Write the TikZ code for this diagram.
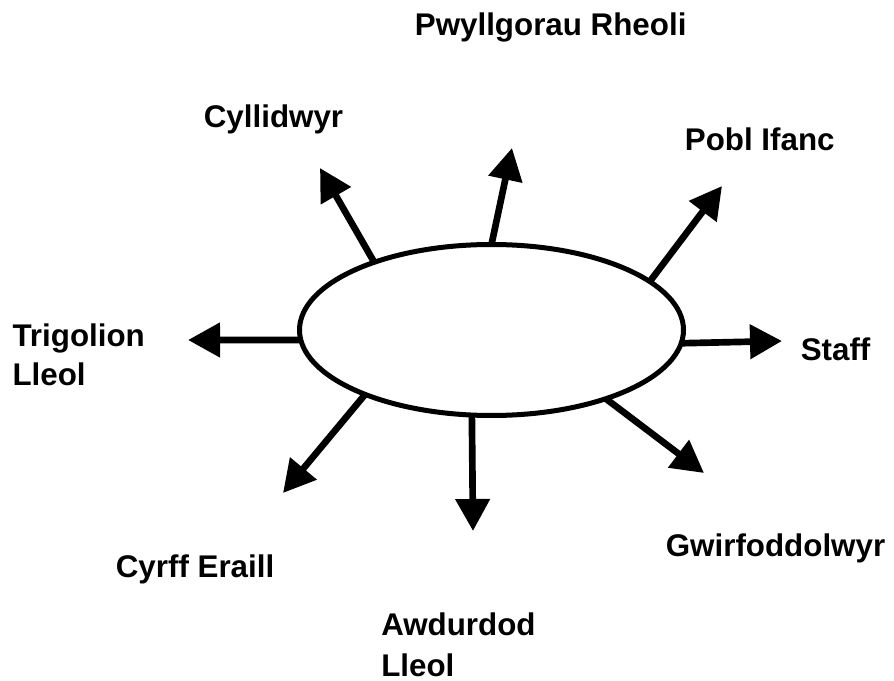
\documentclass[tikz,border=0pt]{standalone}
\usepackage{fontspec}
\setmainfont{Liberation Sans}
\usetikzlibrary{arrows.meta, shapes.geometric}

\begin{document}
\begin{tikzpicture}[x=0.75pt, y=-0.75pt,
  lbl/.style={anchor=north west, inner sep=0pt, align=left,
    font=\fontsize{23.5}{29.25}\selectfont\bfseries},
  spoke/.style={line width=5pt, -{Triangle[length=24pt, width=25pt]}}]
  \useasboundingbox (0,0) rectangle (894,681);
  \node[draw, ellipse, line width=3.75pt, inner sep=0pt, outer sep=0pt,
    minimum width=288pt, minimum height=128.25pt] (hub) at (491.5,330) {};

  % stakeholders
  \node[lbl] (pwyllgor) at (414.6,13) {Pwyllgorau Rheoli};
  \node[lbl] (cyllid) at (203.6,105) {Cyllidwyr};
  \node[lbl] (pobl) at (684.6,128) {Pobl Ifanc};
  \node[lbl] (trigolion) at (12.3,324) {Trigolion\\Lleol};
  \node[lbl] (staff) at (800.5,338) {Staff};
  \node[lbl] (gwirfodd) at (665.6,534) {Gwirfoddolwyr};
  \node[lbl] (cyrff) at (115.6,555) {Cyrff Eraill};
  \node[lbl] (awdurdod) at (381,613) {Awdurdod\\[1pt]Lleol};

  % arrow tips
  \coordinate (tipPwy) at (512,148);
  \coordinate (tipCyl) at (320,168);
  \coordinate (tipPob) at (722,186);
  \coordinate (tipTri) at (188,340);
  \coordinate (tipSta) at (782,341);
  \coordinate (tipGwi) at (704,473);
  \coordinate (tipCyr) at (283,493);
  \coordinate (tipAwd) at (473,531);

  \draw[spoke] (hub.90) -- (tipPwy);
  \draw[spoke] (hub.150) -- (tipCyl);
  \draw[spoke] (hub.17) -- (tipPob);
  \draw[spoke] (hub.183) -- (tipTri);
  \draw[spoke] (hub.356.7) -- (tipSta);
  \draw[spoke] (hub.329.7) -- (tipGwi);
  \draw[spoke] (hub.207) -- (tipCyr);
  \draw[spoke] (hub.257.7) -- (tipAwd);
\end{tikzpicture}
\end{document}
